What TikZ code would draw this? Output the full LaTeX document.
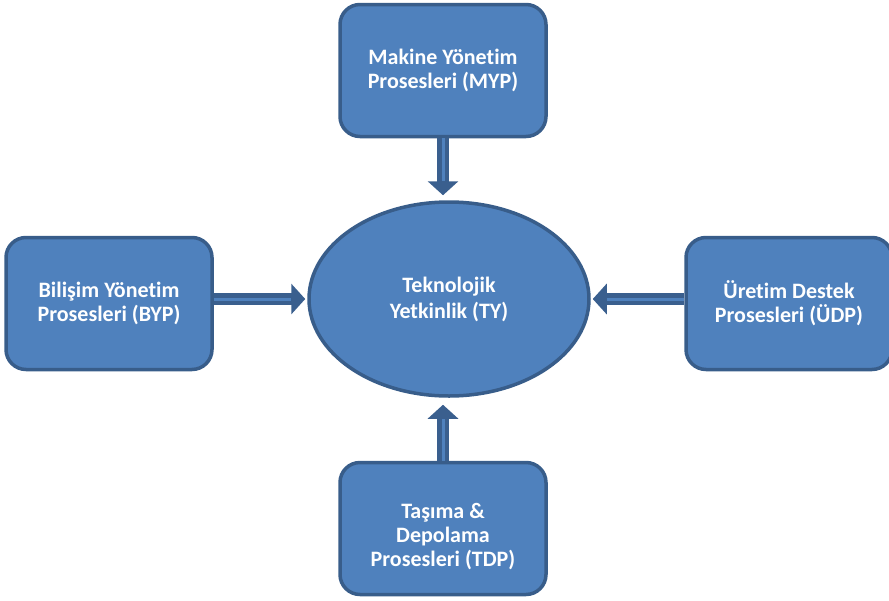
\documentclass[tikz,border=0pt]{standalone}
\usepackage{fontspec}
\setmainfont{Carlito}[Ligatures=NoCommon]
\usepackage{tikz}
\usetikzlibrary{arrows.meta,shapes.geometric,calc}
\definecolor{boxfill}{HTML}{4F81BD}
\definecolor{boxline}{HTML}{385D8A}
\definecolor{arrowline}{HTML}{3A5F8E}
\tikzset{
    box text/.style={text=white,align=center,font=\bfseries\fontsize{22}{24}\selectfont},
    proc box/.style={box text,draw=boxline,fill=boxfill,line width=3.5pt,rounded corners=20pt,
        minimum width=206pt,minimum height=132pt,inner sep=0pt},
    center oval/.style={box text,ellipse,draw=boxline,fill=boxfill,line width=3.5pt,
        minimum width=280pt,minimum height=194pt,inner sep=0pt},
    link/.style={draw=arrowline,line width=12pt,-{Triangle[width=30pt,length=14pt]},shorten >=#1,
        postaction={draw=boxfill,line width=3pt,-,shorten >=#1+14pt}},
    link/.default=2pt,
}

\begin{document}
\begin{tikzpicture}[x=1pt,y=-1pt]
        \useasboundingbox (0,0) rectangle (889,600);

        % process boxes
        \node[proc box] (myp) at (443,70.5) {Makine Yönetim\\Prosesleri (MYP)};
        \node[proc box] (byp) at (109,303.5) {Bilişim Yönetim\\Prosesleri (BYP)};
        \node[proc box] (udp) at (789,303.5) {Üretim Destek\\Prosesleri (ÜDP)};
        \node[proc box,label={[box text,yshift=-8pt]center:{Taşıma \&\\Depolama\\Prosesleri (TDP)}}]
            (tdp) at (443,528.5) {};

        % competence in the middle
        \node[center oval] (ty) at (449,299) {Teknolojik\\[2pt]Yetkinlik (TY)};

        % arrows into the oval
        \draw[link=5pt] (myp.south) -- (myp.south |- ty.north);
        \draw[link=7pt] (tdp.north) -- (tdp.north |- ty.south);
        \draw[link] (byp.east |- ty.west) -- (ty.west);
        \draw[link] (udp.west |- ty.east) -- (ty.east);
    \end{tikzpicture}
\end{document}
